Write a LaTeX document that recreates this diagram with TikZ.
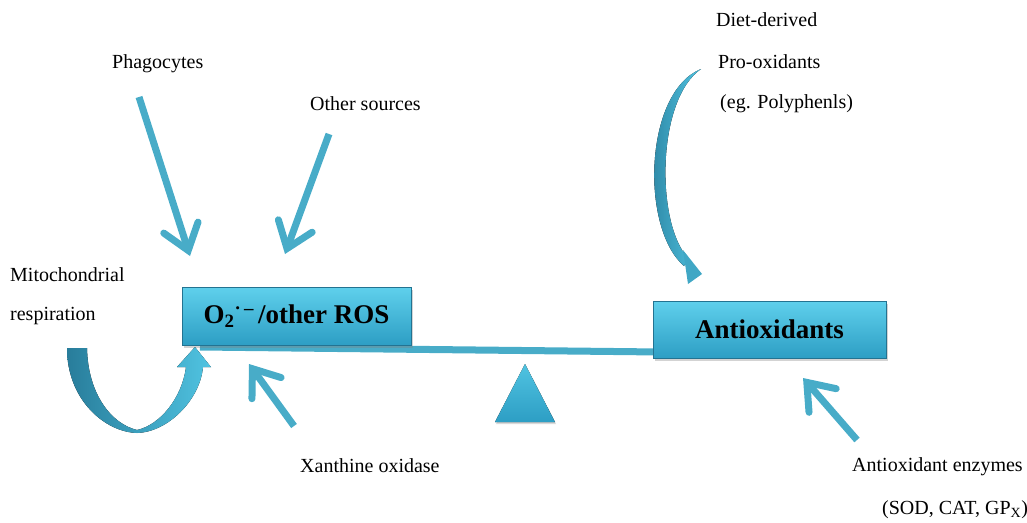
\documentclass[tikz,border=0pt]{standalone}
\usepackage{fontspec}
\setmainfont{Liberation Serif}
\usetikzlibrary{arrows.meta,shadows}
\definecolor{arr}{RGB}{72,172,200}
\definecolor{arrdark}{RGB}{40,125,155}
\definecolor{arrlight}{RGB}{80,195,225}
\definecolor{boxtop}{RGB}{95,208,236}
\definecolor{boxbot}{RGB}{45,158,196}
\definecolor{boxedge}{RGB}{35,115,145}
\tikzset{
  lbl/.style={anchor=west, inner sep=0pt, font=\rmfamily\fontsize{20}{24}\selectfont},
  bigbox/.style={rectangle, top color=boxtop, bottom color=boxbot, draw=boxedge, line width=0.8pt,
     drop shadow={shadow xshift=2pt, shadow yshift=-3pt, opacity=0.35},
     font=\rmfamily\bfseries\fontsize{27}{30}\selectfont, inner sep=0pt},
  straw/.style={draw=arr, line width=7pt, -{Straight Barb[length=24pt,width=36pt,line cap=round]}},
  ribbon/.style={left color=arrdark, right color=arrlight, draw=none}
}
\begin{document}
\begin{tikzpicture}[x=1pt,y=-1pt]
\useasboundingbox (0,0) rectangle (1027,522);
% beam
\coordinate (beamL) at (200,347);
\coordinate (beamR) at (660,352);
\draw[line width=7pt, arr] (beamL) -- (beamR);
% fulcrum
\coordinate (fa) at (525,364);
\coordinate (fl) at (495,422);
\coordinate (fr) at (555,422);
\fill[top color=arrlight, bottom color=boxbot, drop shadow={shadow xshift=1pt, shadow yshift=-2pt, opacity=0.3}] (fa) -- (fr) -- (fl) -- cycle;
% boxes
\node[bigbox, minimum width=229pt, minimum height=58pt] (ros) at (296.5,316)
  {O\textsubscript{2}\textsuperscript{·\,–}\kern0.15em/other ROS};
\node[bigbox, minimum width=233pt, minimum height=57pt] (anti) at (769.5,329.5) {Antioxidants};
% labels
\node[lbl] (phago) at (112,64) {Phagocytes};
\node[lbl] (other) at (310,104) {Other sources};
\node[lbl] (mito1) at (10,275) {Mitochondrial};
\node[lbl] (mito2) at (10,316) {respiration};
\node[lbl] (diet1) at (716,20) {Diet-derived};
\node[lbl] (diet2) at (718,62) {Pro-oxidants};
\node[lbl] (diet3) at (720,104) {(eg. Polyphenls)};
\node[lbl] (xan) at (300,466) {Xanthine oxidase};
\node[lbl] (enz1) at (852,467) {Antioxidant enzymes};
\node[lbl] (enz2) at (882,510) {(SOD, CAT, GP\textsubscript{X})};
% straight arrows
\coordinate (pS) at (139,97);  \coordinate (pE) at (190,256);
\coordinate (oS) at (329,134); \coordinate (oE) at (285,254);
\coordinate (xS) at (294,426); \coordinate (xE) at (249,364);
\coordinate (eS) at (857,440); \coordinate (eE) at (803,378);
\draw[straw] (pS) -- (pE);
\draw[straw] (oS) -- (oE);
\draw[straw] (xS) -- (xE);
\draw[straw] (eS) -- (eE);
% diet curved arrow (crescent)
\coordinate (dS) at (701,69);
\coordinate (dT) at (702,274);
\fill[ribbon] (dS) .. controls (644,92) and (640,228) .. (684,266)
   -- (688,258) .. controls (656,224) and (656,100) .. (dS) -- cycle;
\fill[arrlight!60!arrdark] (683,250) -- (dT) -- (688,284) -- cycle;
% mitochondrial U arrow
\coordinate (mS) at (67,348);
\coordinate (mT) at (195,347);
\fill[ribbon] (mS) .. controls (67,400) and (105,432) .. (137,433)
   .. controls (168,432) and (200,400) .. (203,367)
   -- (211,367) -- (mT) -- (177,367) -- (186,367)
   .. controls (182,398) and (160,425) .. (137,430)
   .. controls (112,424) and (88,395) .. (87,348) -- cycle;
\end{tikzpicture}
\end{document}
